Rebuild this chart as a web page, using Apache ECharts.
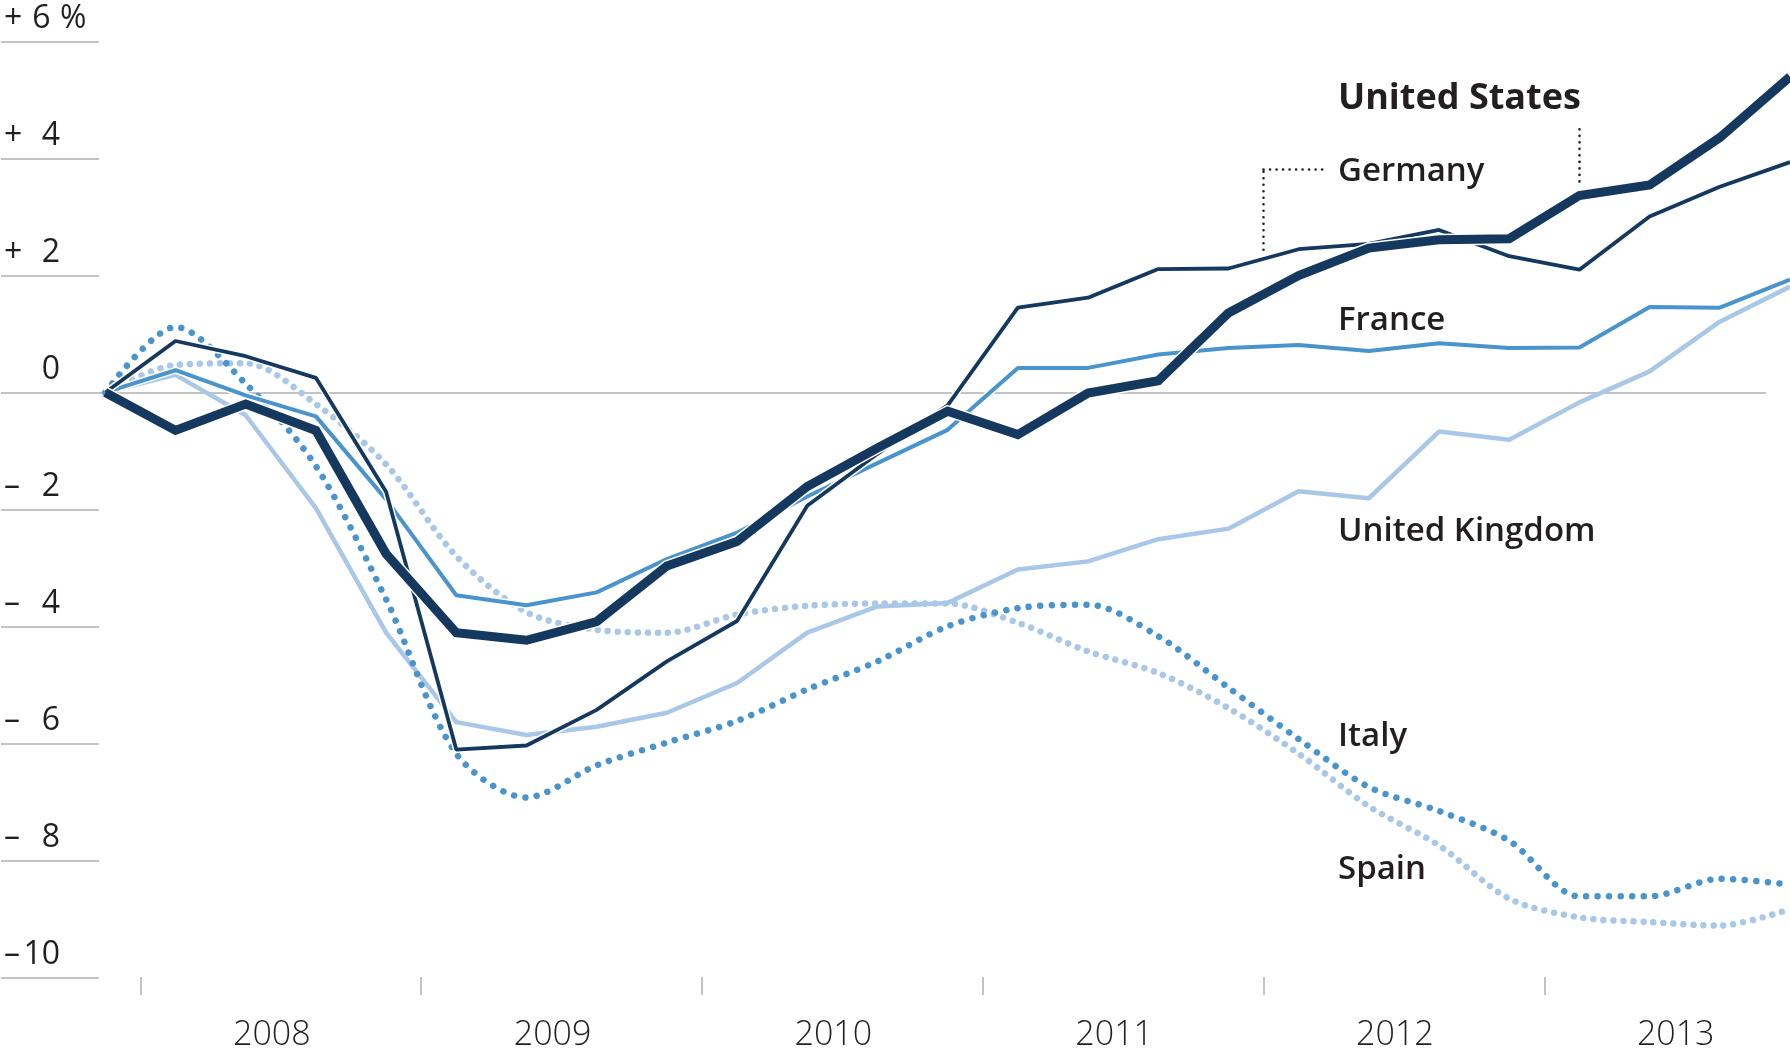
<!DOCTYPE html>
<html>
<head>
<meta charset="utf-8">
<script src="https://cdn.jsdelivr.net/npm/echarts@6/dist/echarts.min.js"></script>
<style>
html,body{margin:0;padding:0;background:#ffffff;}
#chart{width:1790px;height:1052px;}
</style>
</head>
<body>
<div id="chart"></div>
<script>
// ---------------- DATA ----------------
const quarters = ['2007 Q4',
  '2008 Q1','2008 Q2','2008 Q3','2008 Q4',
  '2009 Q1','2009 Q2','2009 Q3','2009 Q4',
  '2010 Q1','2010 Q2','2010 Q3','2010 Q4',
  '2011 Q1','2011 Q2','2011 Q3','2011 Q4',
  '2012 Q1','2012 Q2','2012 Q3','2012 Q4',
  '2013 Q1','2013 Q2','2013 Q3','2013 Q4'];
const yearLabels = ['2008','2009','2010','2011','2012','2013'];
const yTickValues = [-10,-8,-6,-4,-2,0,2,4,6];
const yTickLabels = ['–10','– 8','– 6','– 4','– 2','0','+ 2','+ 4','+ 6%'];

const countryNames = ['United States','Germany','France','United Kingdom','Italy','Spain'];

const usData = [0,-0.65,-0.2,-0.65,-2.76,-4.11,-4.24,-3.92,-2.97,-2.55,-1.61,-0.95,-0.32,-0.72,-0.01,0.2,1.36,2.0,2.47,2.61,2.63,3.37,3.55,4.36,5.4];
const deData = [0,0.88,0.62,0.25,-1.7,-6.11,-6.04,-5.43,-4.6,-3.91,-1.94,-1.05,-0.22,1.45,1.62,2.11,2.12,2.45,2.54,2.78,2.33,2.1,3.01,3.52,3.94];
const frData = [0,0.38,-0.05,-0.41,-1.83,-3.47,-3.64,-3.42,-2.85,-2.4,-1.78,-1.21,-0.64,0.42,0.42,0.65,0.76,0.81,0.71,0.84,0.76,0.77,1.46,1.45,1.93];
const ukData = [0,0.3,-0.39,-1.98,-4.11,-5.64,-5.86,-5.72,-5.48,-4.97,-4.11,-3.66,-3.6,-3.03,-2.89,-2.51,-2.33,-1.69,-1.81,-0.67,-0.81,-0.17,0.36,1.21,1.81];
const itData = [0,1.12,0.15,-1.26,-3.54,-6.18,-6.93,-6.38,-5.99,-5.62,-5.08,-4.6,-4.0,-3.69,-3.63,-4.17,-5.05,-5.93,-6.75,-7.16,-7.67,-8.62,-8.62,-8.32,-8.42];
const esData = [0,0.47,0.5,-0.2,-1.23,-2.8,-3.76,-4.06,-4.11,-3.8,-3.65,-3.61,-3.61,-3.94,-4.43,-4.8,-5.4,-6.18,-7.08,-7.75,-8.66,-8.98,-9.06,-9.12,-8.84];

// ---------------- DERIVED ----------------
const pairs = arr => arr.map((v, i) => [i, v]);
const yearIdx = yearLabels.map(y => quarters.map((q, i) => q.indexOf(y) === 0 ? i : -1).filter(i => i >= 0));
const yearTickPos = yearIdx.map(ix => ix[0] - 0.5);
const yearLabelPos = yearIdx.map(ix => (ix[0] + ix[ix.length - 1]) / 2);

// ---------------- STYLE ----------------
const FONT = '"Open Sans", "Noto Sans", sans-serif';
const TXT = '#231f20';
const GRID = '#c3c3c5';
const NAVY = '#15385f';
const MID = '#4a94cd';
const LIGHT = '#a9c7e7';
const TOP = 41.7, BOTTOM = 74.3;

const dotted = {color: TXT, width: 2.6, type: [0.01, 6.5], cap: 'round'};

const labelLayout = [
  {x: 1338, y: 99,  size: 36, weight: 700},
  {x: 1338, y: 172, size: 33, weight: 600},
  {x: 1338, y: 321, size: 33, weight: 600},
  {x: 1338, y: 532, size: 33, weight: 600},
  {x: 1338, y: 737, size: 33, weight: 600},
  {x: 1338, y: 870, size: 33, weight: 600}
];

const chart = echarts.init(document.getElementById('chart'), null, {renderer: 'canvas'});

function lineSeries(name, data, lineStyle, z, extra) {
  return Object.assign({
    name: name, type: 'line', xAxisIndex: 0, yAxisIndex: 0,
    data: pairs(data), symbol: 'none', silent: true,
    emphasis: {disabled: true},
    lineStyle: lineStyle, z: z
  }, extra || {});
}
function casing(name, data, width, z, join) {
  return lineSeries(name + ' casing', data, {color: '#ffffff', width: width + 3, join: join || 'bevel'}, z);
}

const option = {
  animation: false,
  backgroundColor: '#ffffff',
  grid: [
    {left: 0, right: 0, top: TOP, bottom: BOTTOM, containLabel: false},
    {left: 1, width: 98, top: TOP, bottom: BOTTOM, containLabel: false}
  ],
  xAxis: [
    {
      gridIndex: 0, type: 'value', min: -1.5, max: 24, position: 'bottom',
      axisLine: {show: false, onZero: false}, splitLine: {show: false},
      axisTick: {show: true, customValues: yearTickPos, length: 18, lineStyle: {color: GRID, width: 2}},
      axisLabel: {
        show: true, customValues: yearLabelPos, margin: 41,
        color: TXT, fontFamily: FONT, fontSize: 34, fontWeight: 300,
        padding: [0, 18, 0, 0],
        formatter: function (v) {
          const k = yearLabelPos.indexOf(v);
          return k >= 0 ? yearLabels[k] : '';
        }
      }
    },
    {gridIndex: 1, type: 'value', min: 0, max: 1, show: false, axisLine: {onZero: false}}
  ],
  yAxis: [
    {gridIndex: 0, type: 'value', min: -10, max: 6, show: false, splitLine: {show: false}, axisLine: {onZero: false}},
    {
      gridIndex: 1, type: 'value', min: -10, max: 6, interval: 2,
      axisLine: {show: false, onZero: false}, axisTick: {show: false},
      splitLine: {show: true, lineStyle: {color: GRID, width: 2}},
      axisLabel: {
        inside: true, margin: 3, showMinLabel: true, showMaxLabel: true,
        verticalAlign: 'bottom', padding: [0, 0, 7, 0],
        formatter: function (v) {
          const k = yTickValues.indexOf(v);
          let s = k >= 0 ? yTickLabels[k] : '';
          let sign = ' ', rest = s, pct = '';
          if (s[0] === '+' || s[0] === '–') { sign = s[0]; rest = s.slice(1).trim(); }
          if (rest.slice(-1) === '%') { pct = '%'; rest = rest.slice(0, -1); }
          return '{s|' + sign + '}{n|' + rest + '}' + (pct ? '{p|' + pct + '}' : '');
        },
        rich: {
          s: {width: 19, align: 'left', fontSize: 32, fontFamily: FONT, color: TXT, lineHeight: 32},
          n: {width: 37, align: 'right', fontSize: 32, fontFamily: FONT, color: TXT, lineHeight: 32},
          p: {fontSize: 32, fontFamily: FONT, color: TXT, lineHeight: 32}
        }
      }
    }
  ],
  series: [
    {
      name: 'aux', type: 'line', xAxisIndex: 0, yAxisIndex: 0, data: [], z: 1, silent: true,
      markLine: {
        silent: true, symbol: ['none', 'none'], label: {show: false}, animation: false,
        emphasis: {disabled: true},
        data: [
          [{coord: [-1.45, 0], lineStyle: {color: GRID, width: 2, type: 'solid'}}, {coord: [23.66, 0]}],
          [{coord: [16.5, 2.44], lineStyle: dotted}, {coord: [16.5, 3.81]}],
          [{coord: [16.5, 3.81], lineStyle: dotted}, {coord: [17.39, 3.81]}],
          [{coord: [21, 3.61], lineStyle: dotted}, {coord: [21, 4.6]}]
        ]
      }
    },
    lineSeries('Spain', esData, {color: LIGHT, width: 6.5, type: [0.01, 10], cap: 'round'}, 10, {smooth: 0.3}),
    lineSeries('United Kingdom', ukData, {color: LIGHT, width: 4.5}, 20),
    lineSeries('Italy', itData, {color: MID, width: 6.5, type: [0.01, 11.5], cap: 'round'}, 30, {smooth: 0.3}),
    casing('France', frData, 4, 39),
    lineSeries('France', frData, {color: MID, width: 4}, 40),
    casing('Germany', deData, 3.8, 49),
    lineSeries('Germany', deData, {color: NAVY, width: 3.8}, 50),
    casing('United States', usData, 9, 59, 'miter'),
    lineSeries('United States', usData, {color: NAVY, width: 9, join: 'miter'}, 60)
  ],
  graphic: countryNames.map((name, k) => ({
    type: 'text', x: labelLayout[k].x, y: labelLayout[k].y, silent: true, z: 100,
    style: {
      text: name, fill: TXT, fontFamily: FONT,
      fontSize: labelLayout[k].size, fontWeight: labelLayout[k].weight,
      align: 'left', verticalAlign: 'middle'
    }
  }))
};

chart.setOption(option);
</script>
</body>
</html>
